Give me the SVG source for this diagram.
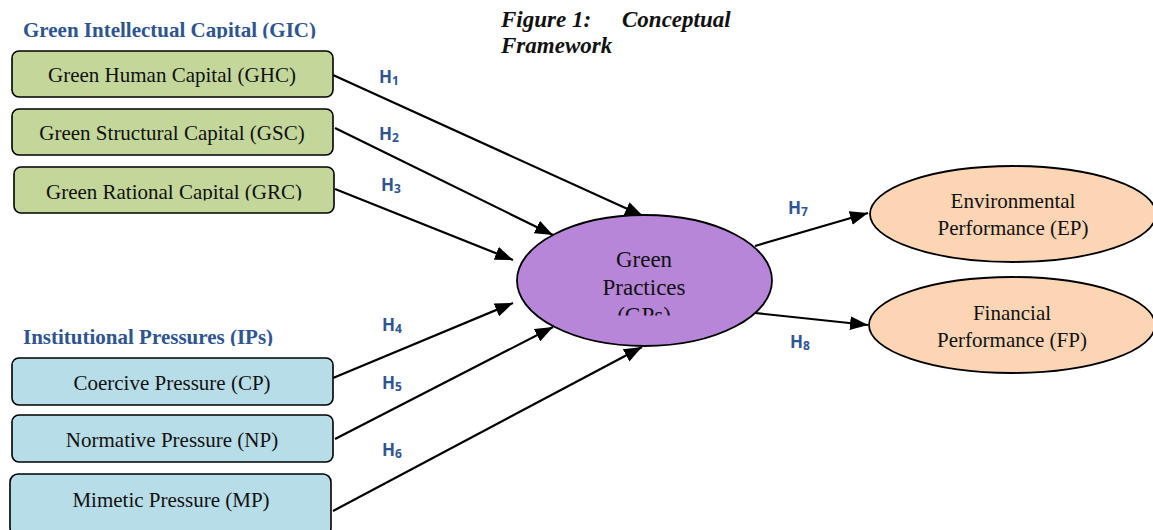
<svg xmlns="http://www.w3.org/2000/svg" width="1153" height="530" viewBox="0 0 1153 530">
  <style>
    .box { stroke: #000; stroke-width: 1.6; }
    .gic { fill: #C4D79B; }
    .ip { fill: #B7DDE8; }
    .lbl { font-family: "Liberation Serif", "Times New Roman", serif; font-size: 21px; fill: #111; text-anchor: middle; }
    .big { font-size: 23px; }
    .hdr { font-family: "Liberation Serif", "Times New Roman", serif; font-size: 21px; font-weight: bold; fill: #2F5590; }
    .hyp { font-family: "Open Sans", "Liberation Sans", sans-serif; font-size: 17px; font-weight: bold; fill: #2F5590; }
    .sub { font-size: 12px; }
    .cap { font-family: "Liberation Serif", "Times New Roman", serif; font-size: 23px; font-weight: bold; font-style: italic; fill: #111; }
    .conn line { stroke: #000; stroke-width: 2.2; marker-end: url(#arrow); }
  </style>
  <defs>
    <marker id="arrow" markerUnits="userSpaceOnUse" markerWidth="20" markerHeight="14" refX="18" refY="7" orient="auto">
      <path d="M0,0 L18,7 L0,14 z" fill="#000"/>
    </marker>
    <clipPath id="clipGic"><rect x="0" y="0" width="400" height="38.5"/></clipPath>
    <clipPath id="clipGrc"><rect x="0" y="160" width="400" height="40.5"/></clipPath>
    <clipPath id="clipIps"><rect x="0" y="310" width="400" height="36"/></clipPath>
    <clipPath id="clipGps"><rect x="500" y="200" width="300" height="115.5"/></clipPath>
  </defs>

  <rect width="1153" height="530" fill="#fff"/>

  <!-- caption -->
  <text class="cap" x="501" y="27">Figure 1:<tspan x="622">Conceptual</tspan></text>
  <text class="cap" x="501" y="53">Framework</text>

  <!-- group headers -->
  <text class="hdr" x="23" y="37" clip-path="url(#clipGic)">Green Intellectual Capital (GIC)</text>
  <text class="hdr" x="23" y="344" clip-path="url(#clipIps)">Institutional Pressures (IPs)</text>

  <!-- connectors -->
  <g id="connectors" class="conn">
    <line x1="333" y1="75" x2="643" y2="216"/>
    <line x1="335" y1="128" x2="553" y2="235"/>
    <line x1="335" y1="189" x2="513" y2="260"/>
    <line x1="333" y1="378" x2="513" y2="303"/>
    <line x1="335" y1="439" x2="553" y2="327"/>
    <line x1="333" y1="511" x2="642" y2="347"/>
    <line x1="755" y1="246" x2="868" y2="213"/>
    <line x1="755" y1="313" x2="868" y2="325"/>
  </g>

  <!-- hypothesis labels -->
  <g id="hypotheses">
    <text class="hyp" x="379" y="83">H<tspan class="sub" dy="2">1</tspan></text>
    <text class="hyp" x="379" y="140">H<tspan class="sub" dy="2">2</tspan></text>
    <text class="hyp" x="381" y="191">H<tspan class="sub" dy="2">3</tspan></text>
    <text class="hyp" x="382" y="331">H<tspan class="sub" dy="2">4</tspan></text>
    <text class="hyp" x="382" y="389">H<tspan class="sub" dy="2">5</tspan></text>
    <text class="hyp" x="382" y="456">H<tspan class="sub" dy="2">6</tspan></text>
    <text class="hyp" x="788" y="214">H<tspan class="sub" dy="2">7</tspan></text>
    <text class="hyp" x="790" y="348">H<tspan class="sub" dy="2">8</tspan></text>
  </g>

  <!-- green intellectual capital -->
  <g id="ghc">
    <rect class="box gic" x="12" y="51" width="321" height="46" rx="7"/>
    <text class="lbl" x="172" y="82">Green Human Capital (GHC)</text>
  </g>
  <g id="gsc">
    <rect class="box gic" x="12" y="109" width="321" height="46" rx="7"/>
    <text class="lbl" x="172" y="140">Green Structural Capital (GSC)</text>
  </g>
  <g id="grc">
    <rect class="box gic" x="14" y="167" width="320" height="46" rx="7"/>
    <text class="lbl" x="174" y="199" clip-path="url(#clipGrc)">Green Rational Capital (GRC)</text>
  </g>

  <!-- institutional pressures -->
  <g id="cp">
    <rect class="box ip" x="12" y="358" width="321" height="47" rx="7"/>
    <text class="lbl" x="172" y="390">Coercive Pressure (CP)</text>
  </g>
  <g id="np">
    <rect class="box ip" x="12" y="415" width="321" height="47" rx="7"/>
    <text class="lbl" x="172" y="447">Normative Pressure (NP)</text>
  </g>
  <g id="mp">
    <rect class="box ip" x="10" y="474" width="321" height="62" rx="8"/>
    <text class="lbl" x="171" y="507">Mimetic Pressure (MP)</text>
  </g>

  <!-- mediator -->
  <g id="gps">
    <ellipse cx="644.5" cy="280.5" rx="127.5" ry="65.5" fill="#B786D8" stroke="#000" stroke-width="1.8"/>
    <g clip-path="url(#clipGps)">
      <text class="lbl big" x="644" y="267">Green</text>
      <text class="lbl big" x="644" y="295">Practices</text>
      <text class="lbl big" x="644" y="323">(GPs)</text>
    </g>
  </g>

  <!-- outcomes -->
  <g id="ep">
    <ellipse cx="1013" cy="214" rx="143" ry="48" fill="#FCD5B4" stroke="#000" stroke-width="1.8"/>
    <text class="lbl" x="1013" y="208">Environmental</text>
    <text class="lbl" x="1013" y="235">Performance (EP)</text>
  </g>
  <g id="fp">
    <ellipse cx="1012" cy="325" rx="143" ry="48" fill="#FCD5B4" stroke="#000" stroke-width="1.8"/>
    <text class="lbl" x="1012" y="320">Financial</text>
    <text class="lbl" x="1012" y="347">Performance (FP)</text>
  </g>
</svg>
